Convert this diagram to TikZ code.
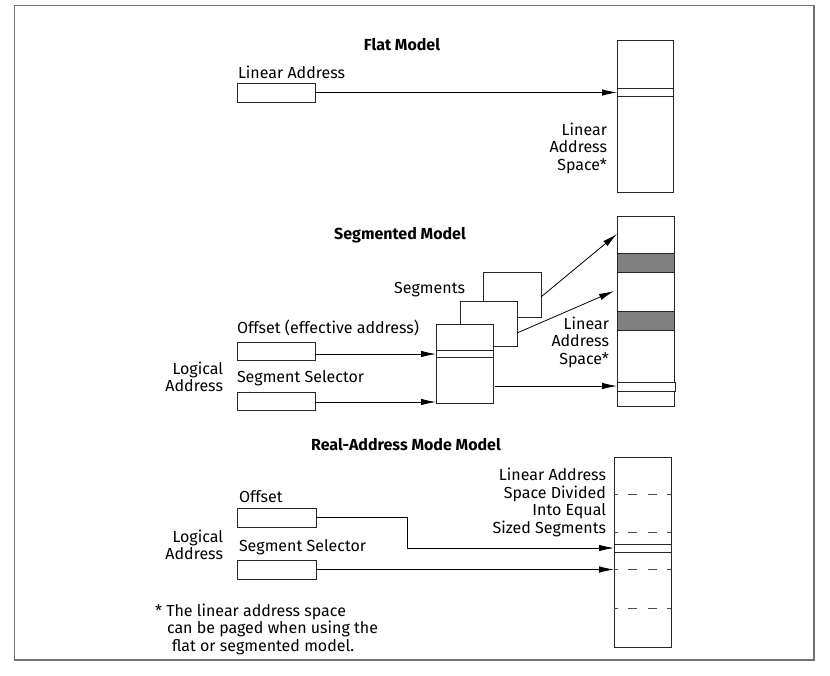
\documentclass[tikz,border=0pt]{standalone}
\usepackage{fontspec}
\setmainfont{Fira Sans}
\usetikzlibrary{arrows.meta}
\begin{document}
\begin{tikzpicture}[x=1pt,y=-1pt,
  lbl/.style={inner sep=0pt, outer sep=0pt, font=\fontsize{16}{17.5}\selectfont},
  ttl/.style={inner sep=0pt, outer sep=0pt, font=\fontsize{16}{17.5}\selectfont\bfseries},
  box/.style={draw=black!85, line width=0.9pt, fill=white, inner sep=0pt, outer sep=0pt, anchor=north west},
  arr/.style={draw=black, line width=0.8pt, -{Latex[length=15pt,width=6.5pt]}},
  thin/.style={draw=black!85, line width=0.8pt},
  band/.style={draw=black!85, line width=0.9pt, fill=black!50},
  dsh/.style={draw=black!70, line width=0.8pt, dash pattern=on 9pt off 10.5pt, dash phase=5.5pt},
]
\useasboundingbox (0,0) rectangle (830,676);
\draw[black!55, line width=1.6pt] (14.5,5.5) rectangle (814,660);

% ---------------- Flat model ----------------
\node[ttl] (tflat) at (402,45) {Flat Model};
\node[lbl, anchor=west] (tla) at (238,72) {Linear Address};
\node[box, minimum width=78pt, minimum height=19pt] (la) at (237,83) {};
\node[box, minimum width=56pt, minimum height=152pt] (fs) at (617,40) {};
\draw[thin] (fs.west |- 0,88) -- (fs.east |- 0,88);
\draw[thin] (fs.west |- 0,96) -- (fs.east |- 0,96);
\draw[arr] (la.east) -- (la.east -| fs.west);
\node[lbl, anchor=east, align=right] (tlas1) at (607,148) {Linear\\Address\\Space*};

% ---------------- Segmented model ----------------
\node[ttl] (tseg) at (400,235) {Segmented Model};
\node[box, minimum width=57pt, minimum height=190pt] (ss) at (617,216) {};
\draw[band] (617,253) rectangle (674,272);
\draw[band] (617,311) rectangle (674,330);
\draw[thin, fill=white] (617,382) rectangle (675,391);
\node[lbl, anchor=east, align=right] (tlas2) at (609,342) {Linear\\Address\\Space*};

\node[box, minimum width=58pt, minimum height=45pt] (sb) at (483,272) {};
\node[box, minimum width=57pt, minimum height=45pt] (sm) at (460,301) {};
\node[box, minimum width=57pt, minimum height=79pt] (sf) at (436,324) {};
\draw[thin] (sf.west |- 0,350) -- (sf.east |- 0,350);
\draw[thin] (sf.west |- 0,357) -- (sf.east |- 0,357);
\node[lbl, anchor=east] (tsegs) at (465,290) {Segments};

\draw[arr] ([yshift=-2.5pt]sb.east) -- (ss.west |- 0,234);
\draw[arr] ([yshift=-9.5pt]sm.east) -- ([xshift=-3pt]ss.west |- 0,291);
\draw[arr] ([xshift=2pt]sf.east |- 0,386) -- (ss.west |- 0,386);

\node[lbl, anchor=west] (toff) at (237,328) {Offset (effective address)};
\node[box, minimum width=78pt, minimum height=18pt] (ob) at (237,342) {};
\node[lbl, anchor=west] (tsel) at (237,378) {Segment Selector};
\node[box, minimum width=78pt, minimum height=18pt] (sel) at (237,392) {};
\draw[arr] ([yshift=-3pt]ob.east) -- ([yshift=-3pt]ob.east -| sf.west);
\draw[arr] ([yshift=-1pt]sel.east) -- ([yshift=-1pt]sel.east -| sf.west);
\node[lbl, anchor=east, align=right] (tlog1) at (223,377) {Logical\\Address};

% ---------------- Real-address mode model ----------------
\node[ttl] (treal) at (406,445) {Real-Address Mode Model};
\node[box, minimum width=57pt, minimum height=190pt] (rs) at (614,457) {};
\foreach \yy in {494,532,569,608} {\draw[dsh] (rs.west |- 0,\yy) -- (rs.east |- 0,\yy);}
\draw[thin] (rs.west |- 0,544) -- (rs.east |- 0,544);
\draw[thin] (rs.west |- 0,552) -- (rs.east |- 0,552);
\node[lbl, anchor=east, align=right] (tdiv) at (606,502.5) {Linear Address\\Space Divided\\Into Equal\\Sized Segments};

\node[lbl, anchor=west] (troff) at (239,497) {Offset};
\node[box, minimum width=79pt, minimum height=19pt] (rob) at (237,508) {};
\node[lbl, anchor=west] (trsel) at (239,547) {Segment Selector};
\node[box, minimum width=79pt, minimum height=19pt] (rsel) at (237,560) {};
\coordinate (bend) at (407,548);
\draw[arr] (rob.east) -| (bend) -- (bend -| rs.west);
\draw[arr] (rsel.east) -- (rsel.east -| rs.west);
\node[lbl, anchor=east, align=right] (tlog2) at (223,545) {Logical\\Address};

\node[lbl, anchor=west, align=left] (tfoot) at (155,629) {* The linear address space\\\hspace*{12pt}can be paged when using the\\\hspace*{17pt}flat or segmented model.};
\end{tikzpicture}
\end{document}
